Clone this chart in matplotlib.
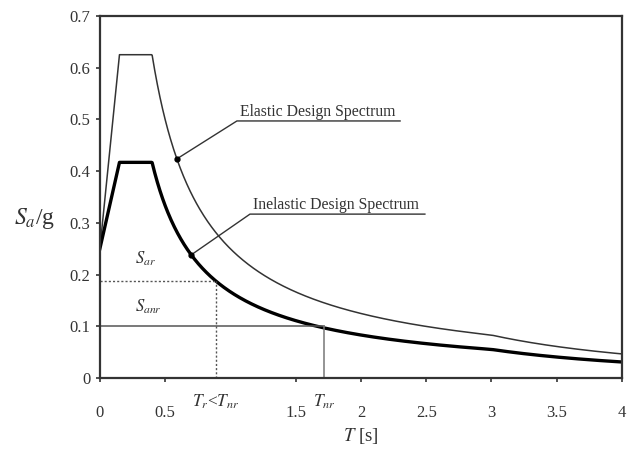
import matplotlib
matplotlib.use("Agg")
import matplotlib.pyplot as plt
import numpy as np

# spectrum parameters
elastic_periods = [0.0, 0.15, 0.4, 3.0]
elastic_levels = [0.25, 0.625, 0.625]
inelastic_levels = [0.25, 0.417, 0.417]
tail_limit = 4.0

s_ar = 0.187
t_r = 0.89
s_anr = 0.10
t_nr = 1.72

x_ticks = [0, 0.5, 1.5, 2, 2.5, 3, 3.5, 4]
y_ticks = [0, 0.1, 0.2, 0.3, 0.4, 0.5, 0.6, 0.7]


def spectrum(T, start, plateau, tb, tc, td):
    T = np.asarray(T, dtype=float)
    out = np.where(T < tb, start + (plateau - start) * T / tb, plateau)
    out = np.where(T > tc, plateau * tc / T, out)
    out = np.where(T > td, plateau * tc * td / T ** 2, out)
    return out


plt.rcParams["font.family"] = ["Liberation Serif", "DejaVu Serif"]
plt.rcParams["mathtext.fontset"] = "stix"

fig = plt.figure(figsize=(6.36, 4.54), dpi=100)
ax = fig.add_axes([0.157, 0.167, 0.821, 0.798])

tb, tc, td = elastic_periods[1], elastic_periods[2], elastic_periods[3]
T = np.linspace(0.0001, tail_limit, 800)
el = spectrum(T, elastic_levels[0], elastic_levels[1], tb, tc, td)
inel = spectrum(T, inelastic_levels[0], inelastic_levels[1], tb, tc, td)

ax.plot(T, el, color="#333333", lw=1.1)
ax.plot(T, inel, color="black", lw=2.4)

# reference lines
ax.plot([0, t_r], [s_ar, s_ar], color="#555555", lw=1.0, ls=(0, (1.5, 1.5)))
ax.plot([t_r, t_r], [0, s_ar], color="#555555", lw=1.0, ls=(0, (1.5, 1.5)))
ax.plot([0, t_nr], [s_anr, s_anr], color="#555555", lw=1.1)
ax.plot([t_nr, t_nr], [0, s_anr], color="#777777", lw=1.1)

ax.text(0.27, 0.222, r"$S_{ar}$", fontsize=12, color="#333333")
ax.text(0.27, 0.128, r"$S_{anr}$", fontsize=12, color="#333333")

# leader annotations
t_el = 0.59
y_el = float(spectrum([t_el], elastic_levels[0], elastic_levels[1], tb, tc, td)[0])
ax.plot([t_el, 1.05, 2.30], [y_el, 0.497, 0.497], color="#333333", lw=1.0)
ax.plot(t_el, y_el, "o", color="black", ms=3.5)
ax.text(1.07, 0.506, "Elastic Design Spectrum", fontsize=11.3, color="#333333")

t_in = 0.70
y_in = float(spectrum([t_in], inelastic_levels[0], inelastic_levels[1], tb, tc, td)[0])
ax.plot([t_in, 1.15, 2.49], [y_in, 0.317, 0.317], color="#333333", lw=1.0)
ax.plot(t_in, y_in, "o", color="black", ms=3.5)
ax.text(1.17, 0.326, "Inelastic Design Spectrum", fontsize=11.3, color="#333333")

ax.set_xlim(0, tail_limit)
ax.set_ylim(0, 0.7)
ax.set_xticks(x_ticks)
ax.set_xticklabels([f"{v:g}" for v in x_ticks])
ax.set_yticks(y_ticks)
ax.set_yticklabels([f"{v:g}" for v in y_ticks])
ax.tick_params(direction="out", length=3, width=1.2, labelsize=12, colors="#333333")
ax.tick_params(axis="x", pad=16)
ax.tick_params(axis="y", pad=4)
for spine in ax.spines.values():
    spine.set_linewidth(1.6)
    spine.set_color("#333333")

# extra labels under the axis at the characteristic periods
ax.text(t_r, -0.028, r"$T_r$<$T_{nr}$", fontsize=12.5, ha="center", va="top",
        color="#333333", clip_on=False)
ax.text(t_nr, -0.028, r"$T_{nr}$", fontsize=12.5, ha="center", va="top",
        color="#333333", clip_on=False)

ax.set_xlabel(r"$T$ [s]", fontsize=13.5, color="#333333", labelpad=4)
ax.set_ylabel(r"$S_a$/g", fontsize=17, color="#333333", rotation=0, va="center")
ax.yaxis.set_label_coords(-0.125, 0.44)

fig.savefig("out.png", dpi=100)
